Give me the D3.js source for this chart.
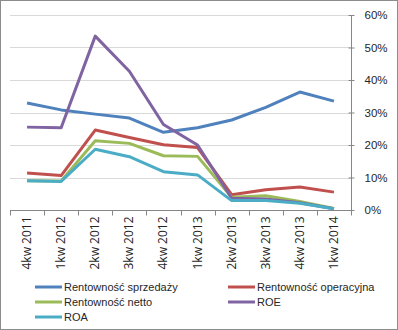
<!DOCTYPE html>
<html>
<head>
<meta charset="utf-8">
<script src="https://cdn.jsdelivr.net/npm/d3@7"></script>
<style>
  body { margin: 0; background: #fff; }
  svg { display: block; font-family: "Open Sans", "Liberation Sans", sans-serif; }
</style>
</head>
<body>
<div id="chart"></div>
<script>
// quarters on the x axis
const categories = ['4kw 2011', '1kw 2012', '2kw 2012', '3kw 2012', '4kw 2012',
    '1kw 2013', '2kw 2013', '3kw 2013', '4kw 2013', '1kw 2014'];

// values in percent
const sprzedazy  = [32.9, 30.8, 29.5, 28.3, 23.9, 25.3, 27.7, 31.6, 36.3, 33.5];
const operacyjna = [11.4, 10.6, 24.6, 22.3, 20.1, 19.2, 4.7, 6.2, 7.1, 5.5];
const netto      = [9.0, 8.9, 21.3, 20.5, 16.7, 16.5, 3.9, 4.4, 2.6, 0.5];
const roe        = [25.5, 25.3, 53.5, 42.7, 26.3, 20.0, 3.6, 3.4, 2.2, 0.4];
const roa        = [9.0, 8.8, 18.7, 16.4, 11.8, 10.8, 2.9, 2.9, 2.1, 0.4];

const yTicks = [0, 10, 20, 30, 40, 50, 60];

const series = [
    { name: 'Rentowność sprzedaży', values: sprzedazy, color: '#4f81bd' },
    { name: 'Rentowność operacyjna', values: operacyjna, color: '#c0504d' },
    { name: 'Rentowność netto', values: netto, color: '#9bbb59' },
    { name: 'ROE', values: roe, color: '#8064a2' },
    { name: 'ROA', values: roa, color: '#4bacc6' }
];

const W = 398, H = 330;
const plot = { left: 10, right: 351, top: 15, bottom: 210 };

const svg = d3.select('#chart').append('svg')
    .attr('width', W)
    .attr('height', H);

// outer border
svg.append('rect')
    .attr('x', 0.5).attr('y', 0.5)
    .attr('width', W - 1).attr('height', H - 1)
    .attr('fill', '#fff')
    .attr('stroke', '#8c8c8c');

const x = d3.scaleBand()
    .domain(categories)
    .range([plot.left, plot.right]);

const y = d3.scaleLinear()
    .domain([0, 60])
    .range([plot.bottom, plot.top]);

// gridlines
svg.append('g')
    .selectAll('line')
    .data(yTicks.filter(d => d > 0))
    .enter()
    .append('line')
    .attr('x1', plot.left)
    .attr('x2', plot.right)
    .attr('y1', d => Math.round(y(d)) + 0.5)
    .attr('y2', d => Math.round(y(d)) + 0.5)
    .attr('stroke', '#d9d9d9');

// right axis
const yAxis = svg.append('g')
    .attr('transform', `translate(${plot.right + 0.5},0)`)
    .call(d3.axisRight(y).tickValues(yTicks).tickSize(4).tickPadding(9)
        .tickFormat(d => d + '%'));
yAxis.select('.domain').attr('stroke', '#868686').attr('d', `M0,${plot.top}V${plot.bottom}`);
yAxis.selectAll('.tick line').attr('stroke', '#868686').attr('x1', -3).attr('x2', 3);
yAxis.selectAll('.tick text')
    .attr('fill', '#262626')
    .attr('font-size', '11.5px');

// bottom axis
const xAxisG = svg.append('g')
    .attr('transform', `translate(0,${plot.bottom + 0.5})`);
xAxisG.append('line')
    .attr('x1', plot.left).attr('x2', plot.right + 1)
    .attr('stroke', '#868686');
xAxisG.selectAll('.xtick')
    .data(categories.concat(['end']))
    .enter()
    .append('line')
    .attr('class', 'xtick')
    .attr('x1', (d, i) => Math.round(plot.left + i * x.bandwidth()) + 0.5)
    .attr('x2', (d, i) => Math.round(plot.left + i * x.bandwidth()) + 0.5)
    .attr('y1', 0)
    .attr('y2', 5)
    .attr('stroke', '#868686');
xAxisG.selectAll('.xlabel')
    .data(categories)
    .enter()
    .append('text')
    .attr('class', 'xlabel')
    .attr('transform', d => `translate(${x(d) + x.bandwidth() / 2 + 4},6) rotate(-90)`)
    .attr('text-anchor', 'end')
    .attr('fill', '#262626')
    .attr('font-size', '12px')
    .text(d => d);

// lines
const line = d3.line()
    .x((d, i) => x(categories[i]) + x.bandwidth() / 2)
    .y(d => y(d));

svg.append('g')
    .selectAll('path')
    .data(series)
    .enter()
    .append('path')
    .attr('d', d => line(d.values))
    .attr('fill', 'none')
    .attr('stroke', d => d.color)
    .attr('stroke-width', 3)
    .attr('stroke-linejoin', 'round');

// legend
const legend = svg.append('g');
const legendItems = legend.selectAll('g')
    .data(series)
    .enter()
    .append('g')
    .attr('transform', (d, i) => `translate(${i % 2 === 0 ? 35 : 228},${287 + Math.floor(i / 2) * 15})`);
legendItems.append('line')
    .attr('x1', 0).attr('x2', 27)
    .attr('stroke', d => d.color)
    .attr('stroke-width', 3);
legendItems.append('text')
    .attr('x', 29)
    .attr('dy', '0.35em')
    .attr('fill', '#262626')
    .attr('font-family', '"Liberation Sans", sans-serif')
    .attr('font-size', '11px')
    .text(d => d.name);
</script>
</body>
</html>
